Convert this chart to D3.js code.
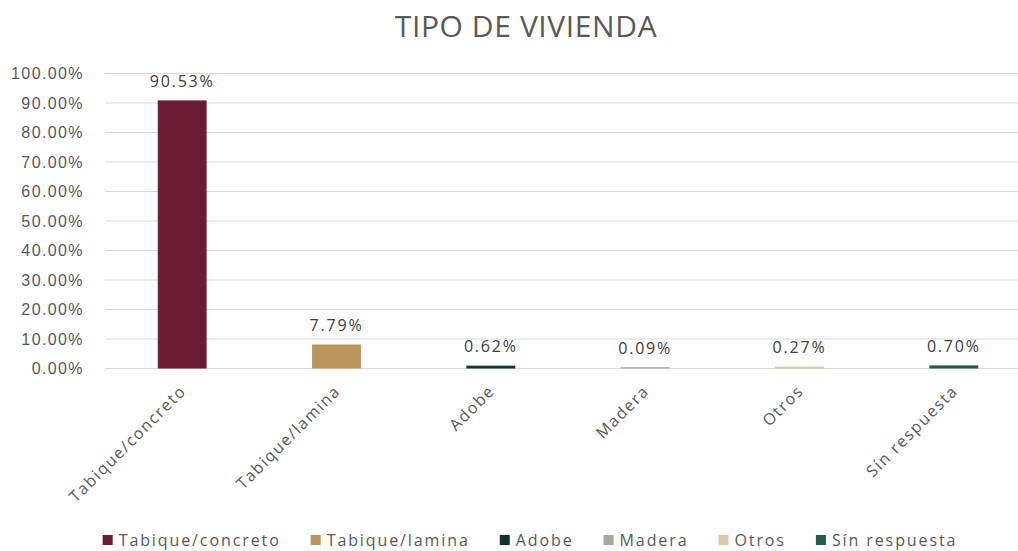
<!DOCTYPE html>
<html>
<head>
<meta charset="utf-8">
<script src="https://cdn.jsdelivr.net/npm/d3@7"></script>
<style>
  body { margin: 0; background: #fff; }
  svg { font-family: "Open Sans", "Noto Sans", sans-serif; }
</style>
</head>
<body>
<svg id="chart" width="1018" height="551"></svg>
<script>
let categories = ["Tabique/concreto", "Tabique/lamina", "Adobe", "Madera", "Otros", "Sín respuesta"]
let values = [0.9053, 0.0779, 0.0062, 0.0009, 0.0027, 0.0070]
let colors = ["#691c32", "#bc955c", "#10312b", "#a5a5a5", "#ddc9a3", "#235b4e"]
let yTicks = [0, 0.1, 0.2, 0.3, 0.4, 0.5, 0.6, 0.7, 0.8, 0.9, 1.0]

let width = 1018
let height = 551
let margin = { top: 73, right: -13, bottom: 183, left: 105 }
let svg = d3.select("#chart")

let x = d3.scaleBand()
    .domain(categories)
    .range([margin.left, width - margin.right])
    .paddingInner(0.69)
    .paddingOuter(0.345)

let y = d3.scaleLinear()
    .domain([0, 1])
    .range([height - margin.bottom, margin.top])

// gridlines + tick labels
let yAxisSettings = d3.axisLeft(y)
    .tickValues(yTicks)
    .tickSize(-(width - margin.right - margin.left))
    .tickFormat(d3.format(".2%"))
    .tickPadding(21)

let yAxisTicks = svg.append("g")
    .attr("class", "y axis")
    .attr("transform", `translate(${margin.left},0)`)
    .call(yAxisSettings)

yAxisTicks.select(".domain").remove()
yAxisTicks.selectAll(".tick line")
    .style("stroke", "#d9d9d9")
    .style("stroke-width", "1px")
yAxisTicks.selectAll(".tick text")
    .style("fill", "#595959")
    .style("font-size", "16px")
    .style("letter-spacing", "1.4px")
    .attr("dy", "0.35em")

let bars = svg.append("g")
    .selectAll("rect")
    .data(categories)
    .join("rect")
    .attr("x", d => x(d))
    .attr("width", x.bandwidth())
    .attr("y", (d, i) => y(values[i]))
    .attr("height", (d, i) => y(0) - y(values[i]))
    .style("fill", (d, i) => colors[i])
    .style("stroke", (d, i) => colors[i])
    .style("stroke-width", "1px")

let labels = svg.append("g")
    .selectAll("text")
    .data(categories)
    .join("text")
    .attr("x", d => x(d) + x.bandwidth() / 2)
    .attr("y", (d, i) => y(values[i]) - 14)
    .attr("text-anchor", "middle")
    .style("fill", "#404040")
    .style("font-size", "16px")
    .style("letter-spacing", "1.8px")
    .text((d, i) => d3.format(".2%")(values[i]))

// rotated category labels
let xLabels = svg.append("g")
    .selectAll("text")
    .data(categories)
    .join("text")
    .attr("transform", d => `translate(${x(d) + x.bandwidth() / 2 + 5},${y(0) + 24}) rotate(-45)`)
    .attr("text-anchor", "end")
    .style("fill", "#595959")
    .style("font-size", "16px")
    .style("letter-spacing", "1.6px")
    .text(d => d)

let title = svg.append("text")
    .attr("x", 526)
    .attr("y", 37)
    .attr("text-anchor", "middle")
    .style("fill", "#595959")
    .style("font-size", "30px")
    .style("letter-spacing", "0.6px")
    .text("TIPO DE VIVIENDA")

// legend
let legend = svg.append("g").attr("class", "legend")
let items = legend.selectAll("g")
    .data(categories)
    .join("g")

items.append("rect")
    .attr("width", 10)
    .attr("height", 10)
    .attr("y", -11)
    .style("fill", (d, i) => colors[i])

items.append("text")
    .attr("x", 16)
    .style("fill", "#595959")
    .style("font-size", "16px")
    .style("letter-spacing", "1.9px")
    .text(d => d)

let gap = 30
let offsets = []
let cursor = 0
items.each(function () {
  offsets.push(cursor)
  cursor += 16 + this.querySelector("text").getComputedTextLength() + gap
})
let total = cursor - gap
let startX = 530 - total / 2
items.attr("transform", (d, i) => `translate(${startX + offsets[i]},546)`)
</script>
</body>
</html>
